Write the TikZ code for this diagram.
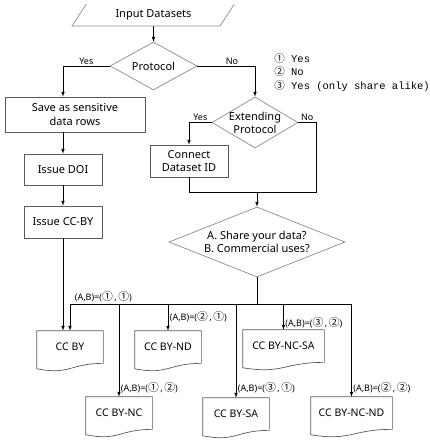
\documentclass[tikz,border=0pt]{standalone}
\usepackage{fontspec}
\setmainfont{Noto Sans}
\newfontfamily\digitfont{Noto Sans CJK KR}
\newfontfamily\pairdigitfont[Scale=1.2]{Noto Sans CJK KR}
\newfontfamily\legendfont{Liberation Mono}
\usetikzlibrary{shapes.geometric}

\definecolor{boxline}{gray}{0.35}
\definecolor{diamondline}{gray}{0.55}

\newcommand{\circone}{{\digitfont ①}}
\newcommand{\circtwo}{{\digitfont ②}}
\newcommand{\circthree}{{\digitfont ③}}
\newcommand{\abpair}[2]{(A,B)=({\pairdigitfont #1}\,,\,{\pairdigitfont #2})}

\tikzset{
  process/.style={rectangle, draw=boxline, minimum height=32, inner sep=2pt, align=center,
    font=\fontsize{11}{13.5}\selectfont},
  decision/.style={diamond, draw=diamondline, inner sep=0pt, align=center,
    font=\fontsize{11}{13}\selectfont},
  docshape/.style={rectangle, minimum width=#1, minimum height=32, inner sep=0pt,
    font=\fontsize{10.5}{12}\selectfont,
    append after command={\pgfextra{
      \draw[boxline] (\tikzlastnode.north west) -- (\tikzlastnode.north east)
        -- (\tikzlastnode.south east)
        .. controls (\tikzlastnode.south) and ([yshift=-12pt]\tikzlastnode.south)
        .. ([yshift=-5.4pt]\tikzlastnode.south west) -- cycle;}}},
  answer/.style={font=\fontsize{9}{10}\selectfont, inner sep=1.5pt},
  pairlabel/.style={font=\fontsize{9}{10}\selectfont, inner sep=1.5pt},
}

\begin{document}
\begin{tikzpicture}[x=1pt, y=-1pt, >=latex, line width=0.7pt]
  \useasboundingbox (0,0) rectangle (429,445);

  % top of the input shape is cut off
  \begin{scope}
    \clip (0,4.5) rectangle (429,445);
    \node[trapezium, trapezium left angle=35, trapezium right angle=145,
      trapezium stretches body, draw=diamondline, minimum width=163,
      minimum height=23, inner sep=0pt, font=\fontsize{11}{13}\selectfont]
      (input) at (153.5,14.5) {Input Datasets};
  \end{scope}

  \node[decision, aspect=1.8, minimum width=87, minimum height=48] (protocol) at (153.5,66) {Protocol};
  \node[decision, aspect=1.7, minimum width=86, minimum height=51,
    label={[align=center, font=\fontsize{11}{13}\selectfont]center:Extending\\Protocol}]
    (extend) at (255,122.5) {};
  \node[decision, aspect=2.5, minimum width=176, minimum height=70] (share) at (257,242)
    {A. Share your data?\\B. Commercial uses?};

  \node[process, minimum width=140, minimum height=35] (save) at (75,114.5) {Save as sensitive\\data rows};
  \node[process, minimum width=78, minimum height=31] (doi) at (63,169.5) {Issue DOI};
  \node[process, minimum width=78] (issueccby) at (63,222) {Issue CC-BY};
  \node[process, minimum width=78] (connect) at (189,161) {Connect\\Dataset ID};

  % licences
  \node[docshape=66] (ccby) at (70,347) {CC BY};
  \node[docshape=66] (ccbynd) at (168,347) {CC BY-ND};
  \node[docshape=81] (ccbyncsa) at (283.5,346) {CC BY-NC-SA};
  \node[docshape=66] (ccbync) at (119,413) {CC BY-NC};
  \node[docshape=66] (ccbysa) at (236,414) {CC BY-SA};
  \node[docshape=81] (ccbyncnd) at (351.5,413) {CC BY-NC-ND};

  \node[anchor=north west, align=left, inner sep=0pt,
    font=\legendfont\fontsize{10.5}{13.5}\selectfont] (legend) at (274,53)
    {\circone~Yes\\\circtwo~No\\\circthree~Yes (only share alike)};

  % flow
  \draw[->] (input) -- (protocol);
  \draw[->] (protocol.west) -| node[answer, pos=0.25, above] {Yes} (save.north -| doi.north);
  \draw[->] (protocol.east) -| node[answer, pos=0.3, above] {No} (extend.north);
  \draw[->] (extend.west) -| node[answer, pos=0.25, above] {Yes} (connect.north);
  \coordinate (merge) at (257,192);
  \coordinate (noturn) at (316,192);
  \draw (extend.east) -| node[answer, pos=0.25, above] {No} (noturn) -- (merge);
  \draw (connect.south) |- (merge);
  \draw[->] (merge) -- (share.north);

  \draw[->] (save.south -| doi.north) -- (doi.north);
  \draw[->] (doi) -- (issueccby);
  \draw[->] (issueccby.south) -- (issueccby.south |- ccby.north);

  \coordinate (bus) at (257,304);
  \draw (share.south) -- (bus);
  \draw (ccby.north |- bus) -- (ccbyncnd.north |- bus);
  \draw[->] (ccby.north |- bus) -- node[pairlabel, pos=0, above right, xshift=3pt] {\abpair{①}{①}} (ccby.north);
  \draw[->] (ccbync.north |- bus) -- node[pairlabel, pos=0.9, right] {\abpair{①}{②}} (ccbync.north);
  \draw[->] (ccbynd.north |- bus) -- node[pairlabel, pos=0.48, right] {\abpair{②}{①}} (ccbynd.north);
  \draw[->] (ccbysa.north |- bus) -- node[pairlabel, pos=0.89, right] {\abpair{③}{①}} (ccbysa.north);
  \draw[->] (ccbyncsa.north |- bus) -- node[pairlabel, pos=0.73, right] {\abpair{③}{②}} (ccbyncsa.north);
  \draw[->] (ccbyncnd.north |- bus) -- node[pairlabel, pos=0.9, right] {\abpair{②}{②}} (ccbyncnd.north);
\end{tikzpicture}
\end{document}
